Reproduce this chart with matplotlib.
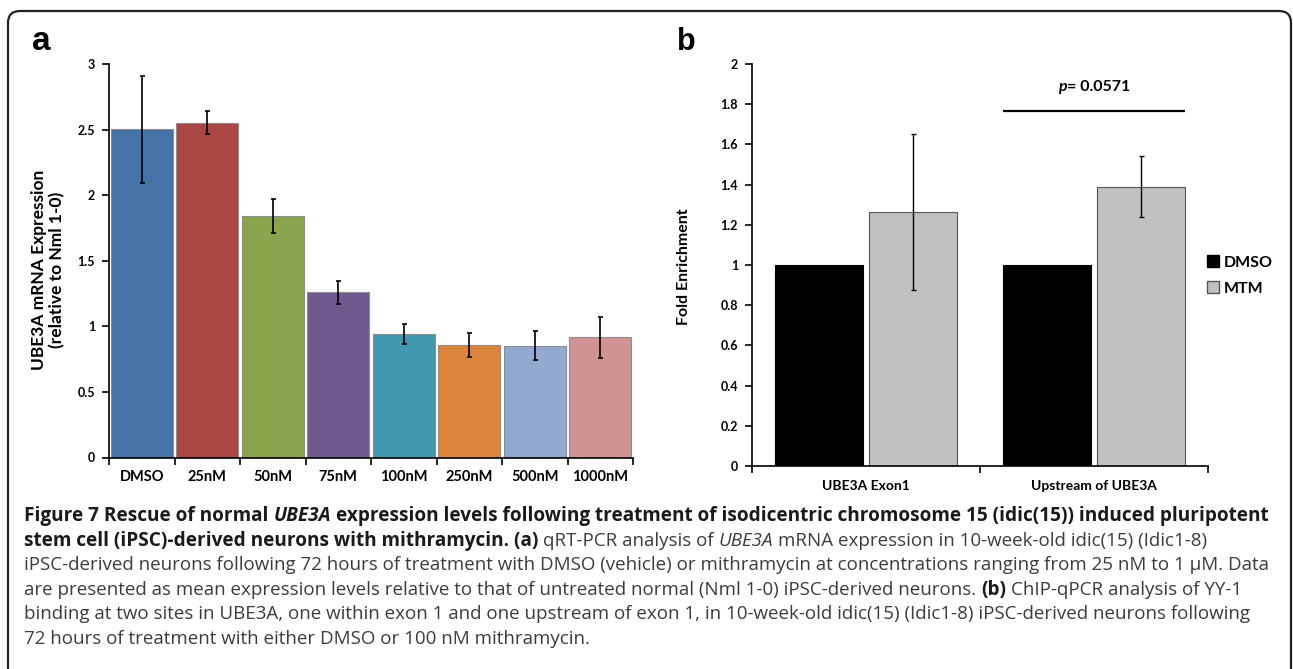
import matplotlib
matplotlib.use("Agg")
import matplotlib.pyplot as plt
from matplotlib.patches import Patch, FancyBboxPatch

# ── Data ──────────────────────────────────────────────────────────────────────
conc_labels = ["DMSO", "25nM", "50nM", "75nM", "100nM", "250nM", "500nM", "1000nM"]
expr_mean = [2.505, 2.555, 1.843, 1.259, 0.940, 0.858, 0.853, 0.916]
expr_err = [0.408, 0.089, 0.130, 0.089, 0.077, 0.092, 0.111, 0.156]
conc_colors = ["#4572A7", "#AA4643", "#89A54E", "#71588F",
               "#4198AF", "#DB843D", "#93A9CF", "#D19392"]

site_labels = ["UBE3A Exon1", "Upstream of UBE3A"]
dmso_fold = [1.0, 1.0]
mtm_fold = [1.265, 1.390]
mtm_err = [0.388, 0.150]
p_value_text = "= 0.0571"
p_line_y = 1.766

caption_lines = [
    [("Figure 7 Rescue of normal ", "b"), ("UBE3A", "bi"),
     (" expression levels following treatment of isodicentric chromosome 15 (idic(15)) induced pluripotent", "b")],
    [("stem cell (iPSC)-derived neurons with mithramycin. (a)", "b"), (" qRT-PCR analysis of ", "r"),
     ("UBE3A", "i"), (" mRNA expression in 10-week-old idic(15) (Idic1-8)", "r")],
    [("iPSC-derived neurons following 72 hours of treatment with DMSO (vehicle) or mithramycin at concentrations ranging from 25 nM to 1 µM. Data", "r")],
    [("are presented as mean expression levels relative to that of untreated normal (Nml 1-0) iPSC-derived neurons. ", "r"),
     ("(b)", "b"), (" ChIP-qPCR analysis of YY-1", "r")],
    [("binding at two sites in UBE3A, one within exon 1 and one upstream of exon 1, in 10-week-old idic(15) (Idic1-8) iPSC-derived neurons following", "r")],
    [("72 hours of treatment with either DMSO or 100 nM mithramycin.", "r")],
]

# ── Figure ────────────────────────────────────────────────────────────────────
W, H = 1293, 669
fig = plt.figure(figsize=(W / 100, H / 100), dpi=100)
renderer = fig.canvas.get_renderer()

CHART_FONT = "Lato"
CAP_FONT = "Open Sans"
STYLE = {
    "b": dict(family=CAP_FONT, weight="bold", color="#1a1a1a"),
    "bi": dict(family=CAP_FONT, weight="bold", style="italic", color="#1a1a1a"),
    "r": dict(family=CAP_FONT, weight="normal", color="#3c3c3c"),
    "i": dict(family=CAP_FONT, weight="normal", style="italic", color="#3c3c3c"),
}


def fx(px):
    return px / W


def fy(py):
    return 1 - py / H


def text_w(s, size, **kw):
    t1 = fig.text(0, 0, "x" + s + "x", fontsize=size, **kw)
    t2 = fig.text(0, 0, "xx", fontsize=size, **kw)
    w = t1.get_window_extent(renderer).width - t2.get_window_extent(renderer).width
    t1.remove()
    t2.remove()
    return w


def draw_runs(x, y, runs, sizes, styles):
    for s, st in runs:
        kw = styles[st]
        size = sizes[st]
        lead = len(s) - len(s.lstrip(" "))
        sp = text_w(" ", size, **kw)
        core = s.strip(" ")
        if core:
            fig.text(fx(x + lead * sp), fy(y), core, fontsize=size,
                     ha="left", va="baseline", **kw)
        x += text_w(s, size, **kw)
    return x


# ── Border ────────────────────────────────────────────────────────────────────
fig.add_artist(FancyBboxPatch((0.08, -0.3), 12.83, 6.58 + 0.3,
                              boxstyle="round,pad=0,rounding_size=0.12",
                              transform=fig.dpi_scale_trans, fill=False,
                              edgecolor="#222222", linewidth=1.6))

# ── Panel a ───────────────────────────────────────────────────────────────────
ax_a = fig.add_axes([fx(109), fy(457.5), fx(633) - fx(109), fy(64.3) - fy(457.5)])
xa = list(range(len(conc_labels)))
ax_a.bar(xa, expr_mean, width=0.945, color=conc_colors, edgecolor="#8c8c8c",
         linewidth=0.8, zorder=2)
ax_a.errorbar(xa, expr_mean, yerr=expr_err, fmt="none", ecolor="black",
              elinewidth=1.2, capsize=1.8, capthick=1.2, zorder=3)
ax_a.set_xlim(-0.5, len(conc_labels) - 0.5)
ax_a.set_ylim(0, 3)
ax_a.set_yticks([0, 0.5, 1, 1.5, 2, 2.5, 3])
ax_a.set_yticklabels(["0", "0.5", "1", "1.5", "2", "2.5", "3"])
ax_a.set_xticks([i - 0.5 for i in range(len(conc_labels) + 1)])
ax_a.set_xticklabels([])
ax_a.set_xticks(xa, minor=True)
ax_a.set_xticklabels(conc_labels, minor=True)
ax_a.tick_params(axis="x", which="major", length=5, width=1.2, direction="out")
ax_a.tick_params(axis="x", which="minor", length=0, pad=9, labelsize=10.5)
ax_a.tick_params(axis="y", length=5, width=1.2, direction="out", pad=5, labelsize=9)
for lab in ax_a.get_xticklabels(minor=True) + ax_a.get_yticklabels():
    lab.set_fontfamily(CHART_FONT)
    lab.set_fontweight("bold")
for sp in ["top", "right"]:
    ax_a.spines[sp].set_visible(False)
for sp in ["left", "bottom"]:
    ax_a.spines[sp].set_linewidth(1.2)

fig.text(fx(48), fy(270), "UBE3A mRNA Expression\n(relative to Nml 1-0)", rotation=90,
         ha="center", va="center", rotation_mode="anchor", multialignment="center",
         family=CHART_FONT, weight="bold", fontsize=12.5, linespacing=1.15)

# ── Panel b ───────────────────────────────────────────────────────────────────
ax_b = fig.add_axes([fx(752), fy(466), fx(1208) - fx(752), fy(64) - fy(466)])
xb = list(range(len(site_labels)))
off, bw = 0.206, 0.382
ax_b.bar([x - off for x in xb], dmso_fold, width=bw, color="black",
         edgecolor="black", linewidth=0.8, zorder=2)
ax_b.bar([x + off for x in xb], mtm_fold, width=bw, color="#C0C0C0",
         edgecolor="#555555", linewidth=0.8, zorder=2)
ax_b.errorbar([x + off for x in xb], mtm_fold, yerr=mtm_err, fmt="none",
              ecolor="black", elinewidth=1.0, capsize=1.8, capthick=1.0, zorder=3)
ax_b.set_xlim(-0.5, len(site_labels) - 0.5)
ax_b.set_ylim(0, 2)
yb = [0, 0.2, 0.4, 0.6, 0.8, 1, 1.2, 1.4, 1.6, 1.8, 2]
ax_b.set_yticks(yb)
ax_b.set_yticklabels(["0", "0.2", "0.4", "0.6", "0.8", "1", "1.2", "1.4", "1.6", "1.8", "2"])
ax_b.set_xticks([-0.5, 0.5, 1.5])
ax_b.set_xticklabels([])
ax_b.set_xticks(xb, minor=True)
ax_b.set_xticklabels(site_labels, minor=True)
ax_b.tick_params(axis="x", which="major", length=5, width=1.2, direction="out")
ax_b.tick_params(axis="x", which="minor", length=0, pad=10, labelsize=10)
ax_b.tick_params(axis="y", length=5, width=1.2, direction="out", pad=5, labelsize=9)
for lab in ax_b.get_xticklabels(minor=True) + ax_b.get_yticklabels():
    lab.set_fontfamily(CHART_FONT)
    lab.set_fontweight("bold")
for sp in ["top", "right"]:
    ax_b.spines[sp].set_visible(False)
for sp in ["left", "bottom"]:
    ax_b.spines[sp].set_linewidth(1.2)

# significance line and p value
ax_b.plot([1 - off - bw / 2, 1 + off + bw / 2], [p_line_y, p_line_y], color="black",
          linewidth=1.6, solid_capstyle="butt", zorder=3)
px_c, py_c = ax_b.transData.transform((1.0, 0))
p_size = 11.5
kw_p = dict(family=CHART_FONT, weight="bold", style="italic", color="black")
kw_v = dict(family=CHART_FONT, weight="bold", color="black")
total = text_w("p", p_size, **kw_p) + text_w(p_value_text, p_size, **kw_v)
draw_runs(px_c - total / 2, 91, [("p", "p"), (p_value_text, "v")],
          {"p": p_size, "v": p_size}, {"p": kw_p, "v": kw_v})

fig.text(fx(684), fy(267), "Fold Enrichment", rotation=90, ha="center", va="center",
         rotation_mode="anchor", family=CHART_FONT, weight="bold", fontsize=11.5)

handles = [Patch(facecolor="black", edgecolor="black", label="DMSO"),
           Patch(facecolor="#C0C0C0", edgecolor="#555555", label="MTM")]
leg = ax_b.legend(handles=handles, loc="center left", bbox_to_anchor=(fx(1207), fy(275.5)),
                  bbox_transform=fig.transFigure, frameon=False, handlelength=0.75,
                  handleheight=0.75, handletextpad=0.3, labelspacing=0.75, borderpad=0,
                  borderaxespad=0, prop=dict(family=CHART_FONT, weight="bold", size=11.5))

# ── Panel letters ─────────────────────────────────────────────────────────────
fig.text(fx(32), fy(50), "a", family="Liberation Sans", weight="bold", fontsize=24,
         ha="left", va="baseline")
fig.text(fx(677), fy(50), "b", family="Liberation Sans", weight="bold", fontsize=22,
         ha="left", va="baseline")

# ── Caption ───────────────────────────────────────────────────────────────────
base = 12
bold_w = sum(text_w(s, base, **STYLE[st]) for s, st in caption_lines[0])
reg_w = sum(text_w(s, base, **STYLE[st]) for s, st in caption_lines[2])
bold_size = base * (1268 - 24) / bold_w
reg_size = base * (1266 - 24) / reg_w
cap_sizes = {"b": bold_size, "bi": bold_size, "r": reg_size, "i": reg_size}
baselines = [521, 546, 570, 595, 619, 644]
for runs, yb_px in zip(caption_lines, baselines):
    draw_runs(24, yb_px, runs, cap_sizes, STYLE)

fig.savefig("out.png", dpi=100)
